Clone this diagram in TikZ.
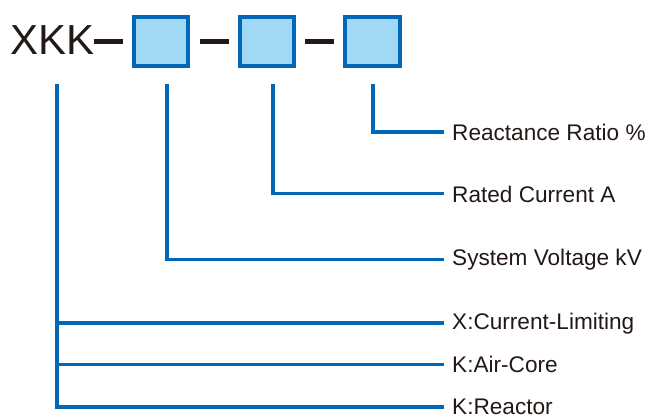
\documentclass[tikz,border=0pt]{standalone}
\usepackage{fontspec}
\setmainfont{Liberation Sans}
\definecolor{lineblue}{HTML}{0068B7}
\definecolor{boxfill}{HTML}{A0D8F5}
\definecolor{ink}{HTML}{231815}
\begin{document}
\begin{tikzpicture}[x=1pt,y=-1pt,
  codebox/.style={draw=lineblue,fill=boxfill,line width=3.6pt,minimum width=54.5pt,minimum height=49.5pt,inner sep=0pt},
  dashbar/.style={fill=ink,inner sep=0pt,minimum width=29pt,minimum height=5pt},
  lbl/.style={anchor=west,inner sep=0pt,text=ink,font=\fontsize{22.6}{24}\selectfont},
  conn/.style={draw=lineblue,line width=3.4pt},
  title/.style={anchor=west,inner sep=0pt,text=ink,font=\fontsize{42}{44}\selectfont}]
\useasboundingbox (0,0) rectangle (650,417);
% header
\node[title] (xkk) at (10,40) {XKK};
\node[dashbar] (d1) at (108.5,42) {};
\node[codebox] (b1) at (161,41.5) {};
\node[dashbar] (d2) at (214,42) {};
\node[codebox] (b2) at (267,41.5) {};
\node[dashbar] (d3) at (319.5,42) {};
\node[codebox] (b3) at (372.5,41.5) {};
% start points
\coordinate (s0) at (57,84);
\coordinate (s1) at (167,84);
\coordinate (s2) at (273,84);
\coordinate (s3) at (373,84);
% labels
\node[lbl] (l1) at (452,132) {Reactance Ratio \%};
\node[lbl] (l2) at (452,194) {Rated Current A};
\node[lbl] (l3) at (452,259.5) {System Voltage kV};
\node[lbl] (l4) at (452,323.5) {X:Current-Limiting};
\node[lbl] (l5) at (452,364.5) {K:Air-Core};
\node[lbl] (l6) at (452,407) {K:Reactor};
% ends of connectors
\coordinate (e1) at (444,132);
\coordinate (e2) at (444,193.5);
\coordinate (e3) at (444,259.5);
\coordinate (e4) at (444,323);
\coordinate (e5) at (444,364.5);
\coordinate (e6) at (444,407);
% connectors
\draw[conn] (s3) |- (e1);
\draw[conn] (s2) |- (e2);
\draw[conn] (s1) |- (e3);
\draw[conn] (s0) |- (e6);
\draw[conn] (s0 |- e4) -- (e4);
\draw[conn] (s0 |- e5) -- (e5);
\end{tikzpicture}
\end{document}
